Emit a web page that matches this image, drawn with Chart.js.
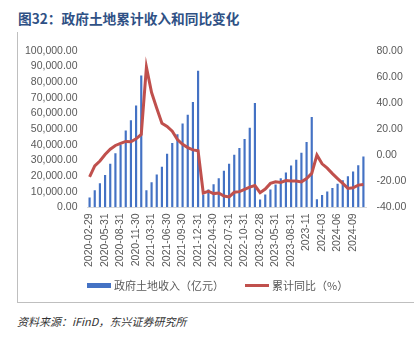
<!DOCTYPE html>
<html>
<head>
<meta charset="utf-8">
<script src="https://cdn.jsdelivr.net/npm/chart.js@4"></script>
<style>
  body { margin: 0; width: 414px; height: 339px; background: #fff; position: relative; overflow: hidden; }
  #title { position: absolute; left: 18px; top: 8px; font: bold 13.7px "Noto Sans CJK SC", sans-serif; color: #2F5185; white-space: nowrap; }
  #frame { position: absolute; left: 17px; top: 32px; width: 397px; height: 270px; border-left: 1px solid #BFBFBF; border-bottom: 1px solid #BFBFBF; }
  #wrap { position: absolute; left: 18px; top: 34px; width: 396px; height: 268px; }
  #legend { position: absolute; left: 87px; top: 277px; height: 16px; display: flex; align-items: center; font: 11px "Noto Sans CJK SC", sans-serif; color: #595959; white-space: nowrap; }
  #legend .sw { display: inline-block; width: 24px; margin-right: 3px; }
  #legend .bar { height: 5px; background: #4472C4; }
  #legend .line { height: 3px; background: #C0504D; margin-left: 21px; }
  #source { position: absolute; left: 17px; top: 313px; font: italic 11px "Noto Sans CJK SC", sans-serif; color: #333; white-space: nowrap; }
</style>
</head>
<body>
<div id="title">图32：政府土地累计收入和同比变化</div>
<div id="frame"></div>
<div id="wrap"><canvas id="landChart"></canvas></div>
<div id="legend"><span class="sw bar"></span><span>政府土地收入（亿元）</span><span class="sw line"></span><span>累计同比（%）</span></div>
<div id="source">资料来源：iFinD，东兴证券研究所</div>
<script>
const months = [
  '2020-02-29','2020-03-31','2020-04-30','2020-05-31','2020-06-30','2020-07-31','2020-08-31','2020-09-30','2020-10-31','2020-11-30','2020-12-31',
  '2021-02-28','2021-03-31','2021-04-30','2021-05-31','2021-06-30','2021-07-31','2021-08-31','2021-09-30','2021-10-31','2021-11-30','2021-12-31',
  '2022-02-28','2022-03-31','2022-04-30','2022-05-31','2022-06-30','2022-07-31','2022-08-31','2022-09-30','2022-10-31','2022-11-30','2022-12-31',
  '2023-02-28','2023-03-31','2023-04-30','2023-05-31','2023-06-30','2023-07-31','2023-08-31','2023-09-30','2023-10-31','2023-11','2023-12',
  '2024-02','2024-03','2024-04','2024-05','2024-06','2024-07','2024-08','2024-09','2024-10','2024-11'
];

// 政府土地收入（亿元），累计
const landIncome = [
  6250, 10900, 15400, 20600, 27900, 34600, 40000, 49000, 55600, 65000, 84200,
  10900, 16000, 21000, 25900, 34200, 41100, 46700, 53600, 59200, 67300, 87300,
  8100, 11300, 14800, 18600, 23400, 27900, 33500, 37900, 43700, 50900, 66700,
  5000, 8200, 11300, 14600, 18600, 22300, 26700, 30400, 34800, 41700, 57700,
  5100, 7800, 10100, 12400, 15000, 17300, 19900, 22900, 26800, 32400
];

// 累计同比（%）
const yoyPct = [
  -16.7, -8.3, -4.5, 0.5, 4.5, 7.4, 9.0, 10.5, 10.2, 12.5, 15.8,
  67.5, 48, 36, 24.5, 22, 18.3, 12, 8.3, 5.8, 4, 3.3,
  -29, -27.7, -29.5, -29, -31.3, -32, -28.5, -28, -26.3, -24.5, -23.3,
  -28.8, -26, -21.7, -20.5, -21, -19.5, -19.8, -19.8, -20.5, -18, -14,
  0, -6.7, -10, -14.2, -18, -21.7, -25.5, -25, -23, -22.5
];

const tickFont = { family: '"Liberation Sans", Arial, sans-serif', size: 10.5 };
const tickColor = '#595959';

const ctx = document.getElementById('landChart').getContext('2d');
new Chart(ctx, {
  data: {
    labels: months,
    datasets: [
      {
        type: 'line',
        label: '累计同比（%）',
        data: yoyPct,
        yAxisID: 'yRight',
        borderColor: '#C0504D',
        borderWidth: 3,
        pointRadius: 0,
        tension: 0,
        order: 0
      },
      {
        type: 'bar',
        label: '政府土地收入（亿元）',
        data: landIncome,
        yAxisID: 'yLeft',
        backgroundColor: '#4472C4',
        barPercentage: 0.42,
        categoryPercentage: 1,
        order: 1
      }
    ]
  },
  options: {
    responsive: true,
    maintainAspectRatio: false,
    animation: false,
    layout: { padding: { left: 0, right: 0, top: 5, bottom: 29 } },
    plugins: {
      tooltip: { enabled: false },
      legend: { display: false }
    },
    scales: {
      x: {
        grid: { display: false, drawTicks: false },
        border: { display: true, color: '#D9D9D9' },
        ticks: {
          autoSkip: false,
          minRotation: 90,
          maxRotation: 90,
          padding: 6,
          color: tickColor,
          font: tickFont,
          callback: function (v, i) { return i % 3 === 0 ? months[i] : ''; }
        }
      },
      yLeft: {
        position: 'left',
        min: 0,
        max: 100000,
        afterFit: s => { s.width = 69; },
        grid: { display: false, drawTicks: false },
        border: { display: false },
        ticks: {
          stepSize: 10000,
          autoSkip: false,
          padding: 9.5,
          color: tickColor,
          font: tickFont,
          callback: v => v.toLocaleString('en-US', { minimumFractionDigits: 2, maximumFractionDigits: 2 })
        }
      },
      yRight: {
        position: 'right',
        min: -40,
        max: 80,
        afterFit: s => { s.width = 48; },
        grid: { display: false, drawTicks: false },
        border: { display: false },
        ticks: {
          stepSize: 20,
          autoSkip: false,
          padding: 10.5,
          color: tickColor,
          font: tickFont,
          callback: v => v.toFixed(2)
        }
      }
    }
  }
});
</script>
</body>
</html>
